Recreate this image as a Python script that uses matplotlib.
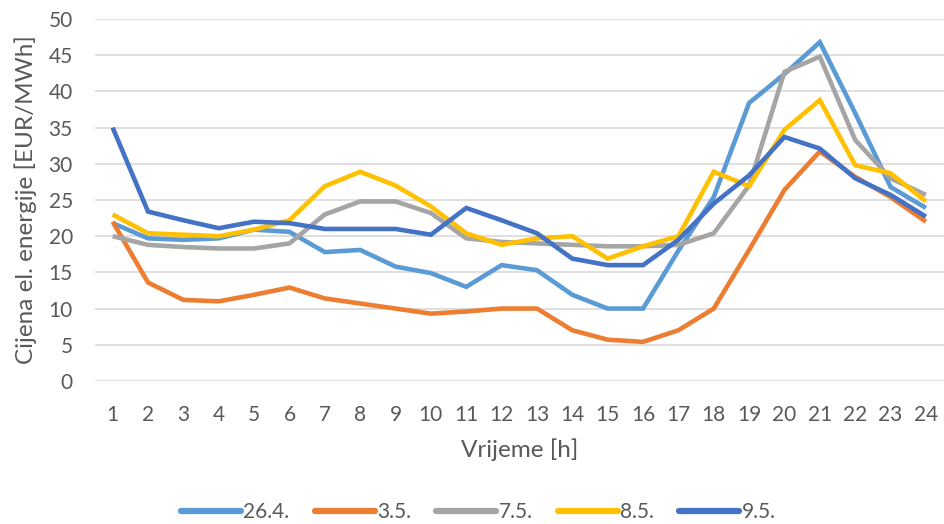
import matplotlib.pyplot as plt

plt.rcParams['font.family'] = ['Lato', 'DejaVu Sans']

sati = list(range(1, 25))

cijena_26_4 = [21.8, 19.7, 19.5, 19.7, 20.9, 20.6, 17.8, 18.1, 15.8, 14.9, 13.0, 16.0,
               15.3, 11.9, 10.0, 10.0, 18.0, 25.4, 38.4, 42.4, 46.8, 37.0, 26.8, 23.9]
cijena_3_5 = [22.0, 13.6, 11.2, 11.0, 11.9, 12.9, 11.4, 10.7, 10.0, 9.3, 9.6, 10.0,
              10.0, 7.0, 5.7, 5.4, 7.0, 10.0, 18.1, 26.4, 31.7, 28.2, 25.4, 22.0]
cijena_7_5 = [20.0, 18.8, 18.5, 18.3, 18.3, 19.0, 23.0, 24.8, 24.8, 23.2, 19.7, 19.2,
              19.0, 18.8, 18.6, 18.6, 18.8, 20.4, 27.0, 42.7, 44.8, 33.3, 28.0, 25.7]
cijena_8_5 = [23.0, 20.4, 20.2, 20.0, 20.9, 22.2, 26.9, 28.9, 27.0, 24.1, 20.4, 18.8,
              19.7, 20.0, 16.9, 18.6, 20.0, 28.9, 26.9, 34.7, 38.8, 29.8, 28.7, 24.8]
cijena_9_5 = [35.0, 23.4, 22.2, 21.1, 22.0, 21.8, 21.0, 21.0, 21.0, 20.2, 23.9, 22.2,
              20.4, 16.9, 16.0, 16.0, 19.5, 24.5, 28.4, 33.7, 32.1, 28.0, 25.7, 22.7]

serije = [
    ('26.4.', cijena_26_4, '#5B9BD5'),
    ('3.5.', cijena_3_5, '#ED7D31'),
    ('7.5.', cijena_7_5, '#A5A5A5'),
    ('8.5.', cijena_8_5, '#FFC000'),
    ('9.5.', cijena_9_5, '#4472C4'),
]

tekst = '#595959'

fig = plt.figure(figsize=(9.45, 5.24), dpi=100)
ax = fig.add_axes([0.1005, 0.273, 0.898, 0.6907])

for naziv, vrijednosti, boja in serije:
    ax.plot(sati, vrijednosti, color=boja, linewidth=3.3, label=naziv,
            solid_joinstyle='miter', solid_capstyle='butt')

ax.set_xlim(0.5, 24.5)
ax.set_ylim(0, 50)
ax.set_yticks(range(0, 51, 5))
ax.set_xticks(sati)
ax.grid(axis='y', color='#D9D9D9', linewidth=1.2)
ax.set_axisbelow(True)
for s in ax.spines.values():
    s.set_visible(False)
ax.tick_params(length=0, labelsize=15, colors=tekst)
ax.tick_params(axis='y', pad=16)
ax.tick_params(axis='x', pad=17)

ax.set_ylabel('Cijena el. energije [EUR/MWh]', fontsize=17.5, color=tekst, labelpad=8)
ax.set_xlabel('Vrijeme [h]', fontsize=17.5, color=tekst, labelpad=10)

leg = fig.legend(loc='center', bbox_to_anchor=(0.506, 0.022), ncol=5, frameon=False,
                 fontsize=15, labelcolor=tekst, handlelength=2.9, handletextpad=0.1,
                 columnspacing=1.2)
for linija in leg.get_lines():
    linija.set_linewidth(4.5)
    linija.set_solid_capstyle('round')

fig.savefig('out.png', dpi=100)
